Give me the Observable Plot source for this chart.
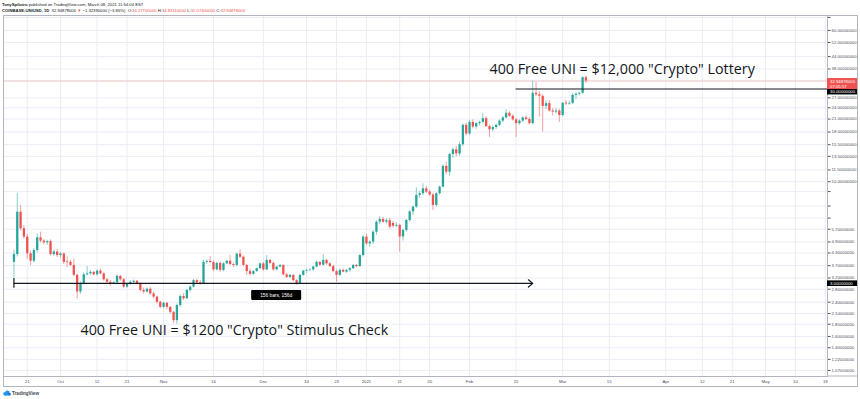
<!DOCTYPE html>
<html><head><meta charset="utf-8">
<script src="https://cdn.jsdelivr.net/npm/d3@7"></script>
<script src="https://cdn.jsdelivr.net/npm/@observablehq/plot@0.6"></script>
<style>
body{margin:0;background:#fff;}
#wrap{position:relative;width:860px;height:399px;overflow:hidden;}
#box{position:absolute;left:3px;top:15px;width:855px;height:372px;border:1px solid #b2b5be;box-sizing:border-box;pointer-events:none}
</style></head><body><div id="wrap"><div id="box"></div></div>
<script>
// ---- data ----
const firstDay = "2020-09-17";
// daily candles [open, high, low, close], Sep 17 2020 .. Mar 8 2021
const candles = [
// Sep
[3.85,4.45,3.20,4.22],[4.22,8.67,4.10,6.97],[6.97,7.55,5.60,5.73],[5.73,5.95,5.05,5.19],
[5.19,5.35,4.00,4.26],[4.26,4.40,3.70,3.90],[3.90,4.52,3.82,4.43],[4.43,5.40,4.30,5.15],
[5.15,5.50,4.85,4.95],[4.95,5.05,4.75,4.85],[4.85,5.00,4.72,4.92],[4.92,5.02,4.15,4.22],
[4.22,4.45,4.12,4.35],[4.35,4.48,4.08,4.17],
// Oct
[4.17,4.32,4.05,4.25],[4.25,4.30,3.75,3.85],[3.88,4.10,3.62,3.85],[3.85,3.95,3.65,3.71],
[3.71,4.00,3.25,3.30],[3.30,3.35,2.50,2.71],[2.71,3.05,2.64,2.99],[2.99,3.40,2.95,3.32],
[3.32,3.66,3.28,3.36],[3.36,3.50,3.30,3.42],[3.42,3.45,3.28,3.32],[3.32,3.52,3.27,3.47],
[3.47,3.56,3.32,3.36],[3.36,3.40,3.08,3.13],[3.13,3.18,2.98,3.04],[3.04,3.10,2.90,2.99],
[2.99,3.06,2.95,3.02],[3.02,3.32,2.99,3.26],[3.26,3.30,3.08,3.13],[3.13,3.18,2.82,2.87],
[2.87,3.00,2.83,2.96],[2.96,3.10,2.93,3.04],[3.04,3.12,2.98,3.08],[3.08,3.10,2.96,2.99],
[2.99,3.01,2.72,2.76],[2.76,2.84,2.64,2.71],[2.71,2.84,2.68,2.80],[2.80,2.85,2.60,2.65],
[2.65,2.70,2.50,2.55],[2.55,2.58,2.35,2.40],[2.40,2.43,2.22,2.26],
// Nov
[2.26,2.40,2.22,2.37],[2.37,2.39,2.20,2.26],[2.26,2.28,2.08,2.13],[2.13,2.15,1.86,1.93],
[1.93,2.35,1.85,2.31],[2.31,2.62,2.25,2.57],[2.57,2.66,2.45,2.50],[2.50,2.80,2.48,2.76],
[2.76,2.92,2.70,2.87],[2.87,3.15,2.84,3.10],[3.10,3.16,2.96,3.02],[3.02,3.10,2.93,2.99],
[2.99,3.95,2.96,3.85],[3.85,3.96,3.76,3.89],[3.89,4.12,3.80,3.84],[3.84,3.90,3.45,3.52],
[3.52,3.86,3.48,3.80],[3.80,3.88,3.42,3.50],[3.50,3.84,3.44,3.78],[3.78,3.94,3.74,3.90],
[3.90,4.17,3.70,3.75],[3.75,3.82,3.62,3.71],[3.71,4.28,3.66,4.24],[4.24,4.47,4.02,4.09],
[4.09,4.15,3.66,3.71],[3.71,3.76,3.30,3.45],[3.45,3.55,3.28,3.34],[3.34,3.50,3.30,3.45],
[3.45,3.60,3.42,3.57],[3.57,3.82,3.54,3.78],
// Dec
[3.78,3.85,3.46,3.52],[3.52,4.17,3.50,3.94],[3.94,3.99,3.75,3.80],[3.80,3.86,3.46,3.52],
[3.52,3.68,3.48,3.64],[3.64,3.74,3.60,3.71],[3.71,3.74,3.28,3.32],[3.32,3.38,3.18,3.22],
[3.22,3.34,3.18,3.30],[3.30,3.33,3.06,3.10],[3.10,3.14,2.93,2.99],[2.99,3.34,2.96,3.30],
[3.30,3.50,3.26,3.47],[3.47,3.55,3.38,3.50],[3.50,3.56,3.44,3.52],[3.52,3.68,3.46,3.64],
[3.64,3.92,3.60,3.85],[3.85,3.90,3.66,3.72],[3.72,4.22,3.70,3.94],[3.94,3.98,3.72,3.78],
[3.78,3.84,3.62,3.66],[3.66,3.72,3.40,3.45],[3.45,3.52,3.04,3.30],[3.30,3.55,3.26,3.50],
[3.50,3.56,3.40,3.43],[3.43,3.54,3.38,3.50],[3.50,3.62,3.42,3.57],[3.57,3.75,3.54,3.71],
[3.71,3.76,3.60,3.66],[3.66,4.22,3.62,4.17],[4.17,5.30,4.10,5.19],
// Jan
[5.19,5.40,4.70,4.79],[4.79,4.98,4.60,4.89],[4.89,5.60,4.75,5.50],[5.50,6.30,5.30,6.19],
[6.19,6.60,6.00,6.40],[6.40,6.55,6.10,6.19],[6.19,6.45,6.05,6.30],[6.30,6.50,5.70,5.84],
[6.10,6.25,5.78,5.90],[5.90,6.15,5.80,5.96],[5.96,6.05,4.34,5.20],[5.20,5.70,4.95,5.61],
[5.61,6.40,5.50,6.32],[6.32,7.10,6.20,7.00],[7.00,7.50,6.70,7.40],[7.40,9.30,7.30,8.50],
[8.50,8.90,8.20,8.67],[8.67,9.76,8.50,9.20],[9.20,9.45,8.70,8.85],[8.85,9.05,8.40,8.55],
[8.55,8.70,7.11,7.55],[7.55,8.80,7.40,8.67],[8.67,9.50,8.55,9.38],[9.38,12.2,9.30,12.0],
[12.0,12.6,10.9,11.2],[11.2,14.0,10.7,13.8],[13.8,14.9,13.2,14.6],[14.6,15.2,13.4,13.9],
[13.9,16.0,13.5,15.5],[15.5,19.8,15.2,19.5],[19.5,20.0,17.2,17.6],
// Feb
[17.6,20.6,17.3,20.2],[20.2,20.8,18.7,19.1],[19.1,20.2,18.6,19.9],[19.9,20.5,19.4,20.2],
[20.2,22.4,19.9,21.1],[21.1,21.6,19.0,19.2],[19.2,19.6,16.9,18.5],[18.5,19.4,18.0,19.0],
[19.0,19.8,18.6,19.5],[19.5,20.8,19.2,20.5],[20.5,21.6,20.1,21.3],[21.3,23.4,21.0,22.5],
[22.5,22.9,21.4,21.7],[21.7,22.1,20.5,20.8],[20.8,21.2,16.9,19.9],[19.9,20.8,19.5,20.5],
[20.5,21.6,20.1,21.3],[21.3,21.8,20.6,20.9],[20.9,21.4,19.6,19.9],[19.9,32.8,19.6,28.5],
[28.5,32.4,27.4,28.0],[28.0,29.0,21.5,27.5],[27.5,28.0,18.0,24.4],[24.4,26.0,23.5,25.2],
[25.2,26.2,22.8,23.1],[23.1,23.8,21.8,22.8],[22.8,23.8,22.3,23.1],[23.1,23.6,20.2,21.9],
// Mar
[21.9,25.6,21.6,25.3],[25.4,26.2,24.6,25.1],[25.1,25.9,24.7,25.3],[25.3,28.4,24.9,27.8],
[27.8,28.6,26.5,28.2],[28.2,28.9,27.6,28.5],[28.5,34.6,28.2,34.277],[34.277,34.8311,32.074,32.94878]
];
const lastClose = 32.94878;
const gridTicks = [70,60,52,44,38,33,27,24,21,18,15.5,13.5,11.5,10,8.9,7.5,6.5,5.7,4.9,4.3,3.7,3.2,2.8,2.4,2.1,1.85,1.6,1.4,1.22,1.07];
const labelTicks = [70,60,52,44,38,27,24,21,18,15.5,13.5,11.5,10,8.9,7.5,6.5,5.7,4.9,4.3,3.7,3.2,2.8,2.4,2.1,1.85,1.6,1.4,1.22,1.07];
const xTickDates = ["2020-09-21","2020-10-01","2020-10-12","2020-10-21","2020-11-01","2020-11-16","2020-12-01","2020-12-14","2020-12-23","2021-01-01","2021-01-11","2021-01-20","2021-02-01","2021-02-15","2021-03-01","2021-03-15","2021-04-01","2021-04-12","2021-04-21","2021-05-01","2021-05-10","2021-05-19"];
const xTickLabels = ["21","Oct","12","21","Nov","16","Dec","14","23","2021","11","20","Feb","15","Mar","15","Apr","12","21","May","10","19"];
const levels = {low: 3.0, high: 30.0};
const measureStart = 0, measureEnd = 156, levelHighStart = 151;
const measureLabel = "156 bars, 156d";
const notes = [
  {date: "2021-02-07", value: 37.6, text: '400 Free UNI = $12,000 "Crypto" Lottery'},
  {date: "2020-10-07", value: 1.72, text: '400 Free UNI = $1200 "Crypto" Stimulus Check'}
];
const xDomain = [new Date("2020-09-13T20:37Z"), new Date("2021-05-19T15:22Z")];
const yDomain = [0.996, 71.6];

// ---- build ----
const start = new Date(firstDay + "T00:00Z");
const dates = d3.utcDay.range(start, d3.utcDay.offset(start, candles.length));
const rows = candles.map((c, i) => ({date: dates[i], open: c[0], high: c[1], low: c[2], close: c[3]}));
const upRows = rows.filter(r => r.close >= r.open);
const dnRows = rows.filter(r => r.close < r.open);
const GREEN = "#26a69a", RED = "#ef5350", INK = "#131722";
const xt = xTickDates.map(s => new Date(s + "T00:00Z"));
const labelOf = new Map(xt.map((d, i) => [+d, xTickLabels[i]]));
const noteRows = notes.map(n => ({...n, date: new Date(n.date + "T00:00Z")}));
const font = "'Liberation Sans', Arial, sans-serif";

const plot = Plot.plot({
  width: 860, height: 399,
  marginTop: 15, marginBottom: 23, marginLeft: 3, marginRight: 33,
  style: {fontFamily: font, fontSize: "4.3px", color: "#4a4e59", background: "transparent", overflow: "visible"},
  x: {type: "utc", domain: xDomain, axis: null},
  y: {type: "log", domain: yDomain, axis: null},
  marks: [
    Plot.gridX(xt, {stroke: "#e9edf5", strokeOpacity: 1}),
    Plot.gridY(gridTicks, {stroke: "#e9edf5", strokeOpacity: 1}),
    Plot.ruleY([lastClose], {stroke: RED, strokeOpacity: 0.35, strokeWidth: 0.8}),
    Plot.ruleX(upRows, {x: "date", y1: "low", y2: "high", stroke: GREEN, strokeWidth: 0.8, strokeOpacity: 0.7}),
    Plot.ruleX(dnRows, {x: "date", y1: "low", y2: "high", stroke: RED, strokeWidth: 0.8, strokeOpacity: 0.7}),
    Plot.ruleX(upRows, {x: "date", y1: "open", y2: "close", stroke: GREEN, strokeWidth: 2.3}),
    Plot.ruleX(dnRows, {x: "date", y1: "open", y2: "close", stroke: RED, strokeWidth: 2.3}),
    Plot.ruleY([{y: levels.high, x1: dates[levelHighStart], x2: xDomain[1]}], {y: "y", x1: "x1", x2: "x2", stroke: INK, strokeWidth: 1.1}),
    Plot.arrow([{x1: dates[measureStart], x2: dates[measureEnd], y: levels.low}], {x1: "x1", x2: "x2", y1: "y", y2: "y", stroke: INK, strokeWidth: 1.2, headLength: 7, headAngle: 80}),
    Plot.ruleX([{x: dates[measureStart], y1: levels.low * 0.945, y2: levels.low * 1.06}], {x: "x", y1: "y1", y2: "y2", stroke: INK, strokeWidth: 1.2}),
    Plot.text(noteRows, {x: "date", y: "value", text: "text", textAnchor: "start", fontSize: 14.3, fontFamily: "'Open Sans', sans-serif", fill: INK}),
    Plot.frame({stroke: "#b2b5be"}),
    Plot.axisX(xt, {anchor: "bottom", tickSize: 0, tickPadding: 3, tickFormat: d => labelOf.get(+d), fontSize: 4.3}),
    Plot.axisY(labelTicks, {anchor: "right", tickSize: 2.5, tickPadding: 1.5, tickFormat: d => d.toFixed(8), fontSize: 4.3})
  ]
});
document.getElementById("wrap").prepend(plot);
plot.style.position = "absolute"; plot.style.left = "0px"; plot.style.top = "0px";

// ---- overlays positioned through the plot's own scales ----
const X = plot.scale("x"), Y = plot.scale("y");
const svg = d3.select(plot);
const [rx0, rx1] = [827, 858];
svg.append("line").attr("x1", rx0).attr("x2", rx1).attr("y1", 376).attr("y2", 376).attr("stroke", "#b2b5be");

function priceBox(value, dy, h, fill, lines) {
  const yc = Y.apply(value) + dy;
  const g = svg.append("g").attr("font-family", font).attr("font-size", 4.3).attr("text-anchor", "start");
  g.append("rect").attr("x", rx0).attr("y", yc - 3).attr("width", rx1 - rx0).attr("height", h).attr("fill", fill);
  lines.forEach((t, i) => g.append("text").attr("x", rx0 + 3).attr("y", yc + 1.5 + i * 5).attr("fill", "#fff").text(t));
}
priceBox(levels.high, 3, 6, "#000", [levels.high.toFixed(8)]);
priceBox(lastClose, 0.5, 11, RED, [lastClose.toFixed(8), "07:05:57"]);
priceBox(levels.low, 0.5, 5.6, "#000", [levels.low.toFixed(8)]);

// measurement label
{
  const cx = X.apply(dates[Math.round((measureStart + measureEnd) / 2) + 1]);
  const cy = Y.apply(levels.low) + 12;
  const g = svg.append("g").attr("font-family", font).attr("font-size", 4.8);
  g.append("rect").attr("x", cx - 25).attr("y", cy - 5).attr("width", 50).attr("height", 10).attr("rx", 1.2).attr("fill", "#000");
  g.append("text").attr("x", cx).attr("y", cy + 1.7).attr("text-anchor", "middle").attr("fill", "#fff").text(measureLabel);
}

// header
{
  const g = svg.append("g").attr("font-family", font).attr("font-size", 4.2).attr("fill", INK).attr("text-anchor", "start");
  const t1 = g.append("text").attr("x", 2).attr("y", 5.5);
  t1.append("tspan").attr("font-weight", "bold").text("TonySpilotro");
  t1.append("tspan").text(" published on TradingView.com, March 08, 2021 11:54:04 EST");
  const t2 = g.append("text").attr("x", 2).attr("y", 11.5);
  t2.append("tspan").attr("font-weight", "bold").text("COINBASE:UNIUSD, 1D ");
  t2.append("tspan").text(" 32.94878000 ");
  t2.append("tspan").attr("fill", RED).text("▼");
  t2.append("tspan").text(" \u22121.32390000 (\u22123.86%) ");
  [["O:", "34.27700000"], ["H:", "34.83110000"], ["L:", "32.07400000"], ["C:", "32.94878000"]].forEach(([k, v]) => {
    t2.append("tspan").text(" " + k);
    t2.append("tspan").attr("fill", RED).text(v);
  });
}
// footer logo
{
  const g = svg.append("g").attr("text-anchor", "start");
  g.append("circle").attr("cx", 5).attr("cy", 393.8).attr("r", 1.8).attr("fill", "#2196f3");
  g.append("circle").attr("cx", 7.3).attr("cy", 392.8).attr("r", 2.2).attr("fill", "#2196f3");
  g.append("circle").attr("cx", 9.3).attr("cy", 394.2).attr("r", 1.4).attr("fill", "#1565c0");
  g.append("rect").attr("x", 4.5).attr("y", 393.8).attr("width", 5).attr("height", 1.8).attr("fill", "#2196f3");
  g.append("text").attr("x", 12).attr("y", 395.2).attr("font-family", font).attr("font-size", 4.6).attr("font-weight", "bold").attr("fill", "#434651").text("TradingView");
}
</script></body></html>
